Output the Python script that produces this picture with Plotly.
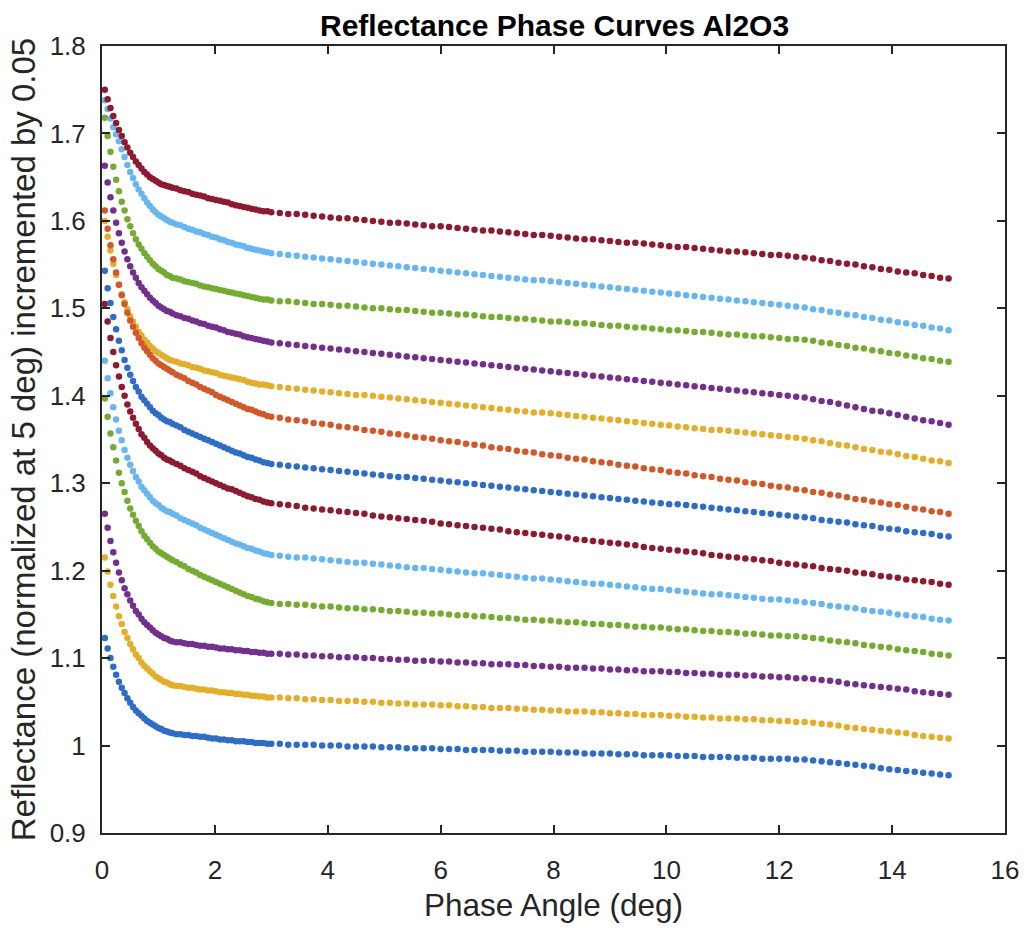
import numpy as np
import plotly.graph_objects as go

# Phase-angle sampling: fine near opposition, then medium, then coarse
x_fine = np.round(np.arange(25) * 0.05 + 0.05, 3)
x_mid = np.round(np.arange(25) * 0.07 + 1.32, 3)
x_coarse = np.round(np.arange(80) * 0.15 + 3.15, 3)
phase_angle = np.concatenate([x_fine, x_mid, x_coarse])

# Normalized reflectance curves, each offset by 0.05 (bottom to top)
curve_01 = [1.123,1.111,1.100,1.090,1.081,1.073,1.066,1.060,1.054,1.049,1.044,1.040,1.037,1.034,1.031,1.028,1.026,1.024,1.022,1.020,1.019,1.017,1.016,1.015,1.014,
            1.013,1.013,1.012,1.012,1.011,1.011,1.010,1.010,1.009,1.008,1.008,1.007,1.007,1.006,1.006,1.005,1.005,1.005,1.004,1.004,1.003,1.003,1.003,1.002,1.002,
            1.002,1.001,1.001,1.001,1.001,1.000,1.000,1.000,0.999,0.999,0.999,0.999,0.998,0.998,0.998,0.997,0.997,0.997,0.997,0.996,0.996,
            0.996,0.995,0.995,0.995,0.995,0.994,0.994,0.994,0.993,0.993,0.993,0.993,0.992,0.992,0.992,0.991,0.991,0.991,0.991,0.990,0.990,
            0.990,0.989,0.989,0.989,0.989,0.988,0.988,0.988,0.987,0.987,0.987,0.987,0.986,0.986,0.986,0.985,0.985,0.985,0.985,0.984,0.984,
            0.983,0.982,0.981,0.980,0.979,0.978,0.977,0.976,0.974,0.973,0.972,0.971,0.970,0.969,0.968,0.967,0.966]
curve_02 = [1.215,1.199,1.184,1.171,1.159,1.148,1.139,1.130,1.123,1.116,1.110,1.104,1.100,1.095,1.091,1.088,1.085,1.082,1.079,1.077,1.075,1.073,1.072,1.070,1.069,
            1.068,1.068,1.067,1.066,1.066,1.065,1.064,1.064,1.063,1.063,1.062,1.061,1.061,1.060,1.060,1.059,1.059,1.058,1.058,1.057,1.057,1.056,1.056,1.055,1.055,
            1.055,1.054,1.054,1.053,1.053,1.052,1.052,1.051,1.051,1.051,1.050,1.050,1.049,1.049,1.048,1.048,1.047,1.047,
            1.047,1.046,1.046,1.045,1.045,1.044,1.044,1.043,1.043,1.043,1.042,1.042,1.041,1.041,1.040,1.040,1.039,1.039,
            1.039,1.038,1.038,1.037,1.037,1.036,1.036,1.035,1.035,1.035,1.034,1.034,1.033,1.033,1.032,1.032,1.031,1.031,
            1.031,1.030,1.030,1.029,1.029,1.028,1.028,1.027,1.027,
            1.026,1.025,1.024,1.023,1.021,1.020,1.019,1.018,1.017,1.016,1.015,1.014,1.012,1.011,1.010,1.009,1.008]
curve_03 = [1.265,1.249,1.234,1.221,1.209,1.198,1.189,1.180,1.173,1.166,1.160,1.154,1.150,1.145,1.141,1.138,1.135,1.132,1.129,1.127,1.125,1.123,1.122,1.120,1.119,
            1.118,1.118,1.117,1.116,1.116,1.115,1.114,1.114,1.113,1.113,1.112,1.111,1.111,1.110,1.110,1.109,1.109,1.108,1.108,1.107,1.107,1.106,1.106,1.105,1.105,
            1.105,1.104,1.104,1.103,1.103,1.102,1.102,1.101,1.101,1.101,1.100,1.100,1.099,1.099,1.098,1.098,1.097,1.097,
            1.097,1.096,1.096,1.095,1.095,1.094,1.094,1.093,1.093,1.093,1.092,1.092,1.091,1.091,1.090,1.090,1.089,1.089,
            1.089,1.088,1.088,1.087,1.087,1.086,1.086,1.085,1.085,1.085,1.084,1.084,1.083,1.083,1.082,1.082,1.081,1.081,
            1.081,1.080,1.080,1.079,1.079,1.078,1.078,1.077,1.077,
            1.076,1.075,1.074,1.073,1.071,1.070,1.069,1.068,1.067,1.066,1.065,1.064,1.062,1.061,1.060,1.059,1.058]
curve_04 = [1.397,1.376,1.357,1.341,1.326,1.312,1.300,1.290,1.280,1.271,1.264,1.257,1.251,1.245,1.240,1.236,1.232,1.228,1.225,1.222,1.220,1.218,1.216,1.214,1.212,
            1.210,1.207,1.205,1.202,1.200,1.198,1.195,1.193,1.191,1.189,1.187,1.185,1.183,1.181,1.179,1.177,1.175,1.173,1.171,1.170,1.168,1.167,1.165,1.164,1.163,
            1.162,1.162,1.161,1.161,1.160,1.159,1.159,1.158,1.157,1.157,1.156,1.156,1.155,1.154,1.154,1.153,1.152,1.152,1.151,1.151,1.150,
            1.149,1.149,1.148,1.148,1.147,1.146,1.146,1.145,1.144,1.144,1.143,1.143,1.142,1.141,1.141,1.140,1.139,1.139,1.138,1.138,1.137,
            1.136,1.136,1.135,1.135,1.134,1.133,1.133,1.132,1.131,1.131,1.130,1.130,1.129,1.128,1.128,1.127,1.126,1.126,1.125,1.125,1.124,
            1.123,1.122,1.120,1.119,1.118,1.117,1.115,1.114,1.113,1.112,1.110,1.109,1.108,1.107,1.105,1.104,1.103]
curve_05 = [1.440,1.420,1.403,1.387,1.373,1.360,1.349,1.338,1.329,1.321,1.314,1.307,1.302,1.296,1.292,1.288,1.284,1.280,1.277,1.275,1.272,1.270,1.268,1.267,1.265,
            1.263,1.260,1.258,1.256,1.254,1.252,1.249,1.247,1.245,1.243,1.241,1.239,1.237,1.235,1.233,1.231,1.230,1.228,1.226,1.225,1.223,1.222,1.220,1.219,1.218,
            1.217,1.216,1.215,1.215,1.214,1.213,1.212,1.211,1.210,1.209,1.209,1.208,1.207,1.206,
            1.205,1.204,1.203,1.203,1.202,1.201,1.200,1.199,1.198,1.197,1.197,1.196,1.195,1.194,
            1.193,1.192,1.191,1.191,1.190,1.189,1.188,1.187,1.186,1.185,1.185,1.184,1.183,1.182,
            1.181,1.180,1.179,1.179,1.178,1.177,1.176,1.175,1.174,1.173,1.173,1.172,1.171,1.170,
            1.169,1.168,1.167,1.167,1.166,1.165,1.164,
            1.163,1.162,1.160,1.159,1.158,1.157,1.155,1.154,1.153,1.152,1.150,1.149,1.148,1.147,1.145,1.144,1.143]
curve_06 = [1.505,1.485,1.466,1.450,1.435,1.422,1.410,1.400,1.390,1.382,1.375,1.368,1.362,1.356,1.352,1.347,1.343,1.340,1.337,1.334,1.332,1.329,1.327,1.326,1.324,
            1.322,1.320,1.317,1.315,1.313,1.311,1.308,1.306,1.304,1.302,1.300,1.298,1.296,1.294,1.293,1.291,1.289,1.287,1.285,1.284,1.282,1.281,1.279,1.278,1.277,
            1.276,1.275,1.274,1.272,1.271,1.270,1.269,1.268,1.267,1.266,1.265,1.263,1.262,1.261,1.260,1.259,1.258,1.257,1.256,1.254,
            1.253,1.252,1.251,1.250,1.249,1.248,1.247,1.245,1.244,1.243,1.242,1.241,1.240,1.239,1.238,1.236,1.235,1.234,1.233,1.232,
            1.231,1.230,1.229,1.227,1.226,1.225,1.224,1.223,1.222,1.221,1.220,1.218,1.217,1.216,1.215,1.214,1.213,1.212,1.211,1.209,
            1.208,1.207,1.206,
            1.205,1.203,1.202,1.201,1.200,1.198,1.197,1.196,1.194,1.193,1.192,1.190,1.189,1.188,1.187,1.185,1.184]
curve_07 = [1.543,1.523,1.506,1.490,1.476,1.463,1.452,1.441,1.432,1.424,1.417,1.410,1.405,1.399,1.395,1.391,1.387,1.383,1.380,1.378,1.375,1.373,1.371,1.370,1.368,
            1.366,1.364,1.361,1.359,1.357,1.355,1.353,1.351,1.349,1.347,1.345,1.343,1.341,1.339,1.337,1.335,1.334,1.332,1.330,1.329,1.327,1.326,1.324,1.323,1.322,
            1.321,1.320,1.319,1.318,1.317,1.316,1.315,1.314,1.313,1.312,1.311,1.310,1.309,1.308,1.307,
            1.307,1.306,1.305,1.304,1.303,1.302,1.301,1.300,1.299,1.298,1.297,1.296,1.295,1.294,1.293,1.292,
            1.291,1.290,1.289,1.288,1.287,1.286,1.285,1.284,1.283,1.282,1.281,1.280,1.279,1.278,1.277,1.276,
            1.276,1.275,1.274,1.273,1.272,1.271,1.270,1.269,1.268,1.267,1.266,1.265,1.264,1.263,1.262,1.261,
            1.260,1.258,1.257,1.256,1.255,1.253,1.252,1.251,1.249,1.248,1.247,1.245,1.244,1.243,1.242,1.240,1.239]
curve_08 = [1.600,1.582,1.566,1.551,1.538,1.527,1.516,1.507,1.499,1.491,1.485,1.479,1.473,1.469,1.464,1.461,1.457,1.454,1.451,1.449,1.447,1.445,1.443,1.441,1.440,
            1.439,1.437,1.436,1.435,1.433,1.432,1.431,1.429,1.428,1.427,1.426,1.424,1.423,1.422,1.421,1.420,1.419,1.418,1.416,1.415,1.414,1.413,1.413,1.412,1.411,
            1.410,1.409,1.408,1.407,1.406,1.405,1.404,1.403,1.402,1.401,
            1.401,1.400,1.399,1.398,1.397,1.396,1.395,1.394,1.393,1.392,1.391,1.390,1.389,1.388,1.387,1.386,1.385,1.384,1.383,1.382,1.381,
            1.381,1.380,1.379,1.378,1.377,1.376,1.375,1.374,1.373,1.372,1.371,1.370,1.369,1.368,1.367,1.366,1.365,1.364,1.363,1.362,1.361,
            1.361,1.360,1.359,1.358,1.357,1.356,1.355,1.354,1.353,1.352,1.351,
            1.349,1.348,1.346,1.344,1.343,1.341,1.339,1.338,1.336,1.335,1.333,1.331,1.330,1.328,1.326,1.325,1.323]
curve_09 = [1.612,1.591,1.572,1.556,1.541,1.527,1.515,1.505,1.495,1.486,1.479,1.472,1.466,1.460,1.455,1.451,1.447,1.443,1.440,1.437,1.435,1.433,1.431,1.429,1.427,
            1.424,1.422,1.420,1.417,1.415,1.413,1.410,1.408,1.406,1.404,1.401,1.399,1.397,1.395,1.393,1.391,1.389,1.387,1.385,1.384,1.382,1.380,1.379,1.377,1.376,
            1.375,1.373,1.372,1.371,1.369,1.368,1.367,1.365,1.364,1.363,1.361,1.360,1.359,1.357,1.356,1.355,1.353,1.352,1.351,1.349,1.348,
            1.347,1.345,1.344,1.343,1.341,1.340,1.339,1.337,1.336,1.335,1.333,1.332,1.331,1.329,1.328,1.327,1.325,1.324,1.323,1.321,1.320,
            1.319,1.317,1.316,1.315,1.313,1.312,1.311,1.309,1.308,1.307,1.305,1.304,1.303,1.301,1.300,1.299,1.297,1.296,1.295,1.293,1.292,
            1.290,1.289,1.287,1.286,1.284,1.282,1.281,1.279,1.278,1.276,1.275,1.273,1.271,1.270,1.268,1.267,1.265]
curve_10 = [1.663,1.644,1.627,1.612,1.598,1.586,1.575,1.565,1.556,1.548,1.541,1.535,1.529,1.524,1.520,1.516,1.512,1.509,1.506,1.503,1.501,1.499,1.497,1.496,1.494,
            1.492,1.491,1.489,1.488,1.486,1.485,1.483,1.482,1.480,1.479,1.478,1.476,1.475,1.473,1.472,1.471,1.470,1.468,1.467,1.466,1.465,1.464,1.463,1.462,1.461,
            1.460,1.459,1.458,1.457,1.456,1.455,1.454,1.453,1.452,1.451,1.450,1.449,1.448,1.447,1.446,1.445,1.444,1.443,1.442,1.441,1.440,
            1.439,1.438,1.437,1.436,1.435,1.434,1.433,1.432,1.431,1.430,1.429,1.428,1.427,1.426,1.425,1.424,1.423,1.422,1.421,1.420,1.419,
            1.418,1.417,1.416,1.415,1.414,1.413,1.412,1.411,1.410,1.409,1.408,1.407,1.406,1.405,1.404,1.403,1.402,1.401,1.400,1.399,1.398,
            1.396,1.394,1.393,1.391,1.389,1.387,1.385,1.383,1.382,1.380,1.378,1.376,1.374,1.372,1.371,1.369,1.367]
curve_11 = [1.718,1.697,1.679,1.662,1.647,1.634,1.622,1.612,1.602,1.594,1.586,1.579,1.573,1.568,1.563,1.559,1.555,1.551,1.548,1.545,1.543,1.541,1.538,1.537,1.535,
            1.534,1.533,1.531,1.530,1.529,1.528,1.526,1.525,1.524,1.523,1.522,1.521,1.520,1.519,1.518,1.517,1.516,1.515,1.514,1.513,1.512,1.511,1.510,1.510,1.509,
            1.508,1.508,1.507,1.506,1.505,1.505,1.504,1.503,1.503,1.502,1.501,1.500,1.500,1.499,
            1.498,1.498,1.497,1.496,1.495,1.495,1.494,1.493,1.493,1.492,1.491,1.490,1.490,1.489,
            1.488,1.488,1.487,1.486,1.485,1.485,1.484,1.483,1.483,1.482,1.481,1.480,1.480,1.479,
            1.478,1.478,1.477,1.476,1.475,1.475,1.474,1.473,1.473,1.472,1.471,1.470,1.470,1.469,
            1.468,1.468,1.467,1.466,1.465,1.465,1.464,
            1.463,1.461,1.460,1.458,1.457,1.455,1.454,1.452,1.451,1.449,1.448,1.446,1.445,1.443,1.442,1.440,1.439]
curve_12 = [1.738,1.728,1.717,1.707,1.699,1.691,1.682,1.673,1.664,1.656,1.649,1.642,1.636,1.631,1.626,1.621,1.617,1.613,1.610,1.607,1.605,1.603,1.601,1.599,1.598,
            1.596,1.595,1.593,1.591,1.590,1.588,1.587,1.585,1.584,1.582,1.581,1.579,1.578,1.576,1.575,1.573,1.572,1.571,1.569,1.568,1.567,1.566,1.565,1.564,1.563,
            1.562,1.561,1.560,1.559,1.558,1.557,1.556,1.555,1.554,1.553,1.552,1.551,1.550,1.549,1.548,1.547,
            1.546,1.545,1.544,1.543,1.542,1.541,1.540,1.539,1.538,1.537,1.536,1.535,1.534,1.533,1.532,
            1.532,1.531,1.530,1.529,1.528,1.527,1.526,1.525,1.524,1.523,1.522,1.521,1.520,1.519,1.518,1.517,
            1.516,1.515,1.514,1.513,1.512,1.511,1.510,1.509,1.508,1.507,1.506,1.505,1.504,1.503,1.502,1.501,
            1.499,1.498,1.496,1.495,1.493,1.492,1.490,1.489,1.487,1.486,1.484,1.483,1.481,1.480,1.478,1.477,1.475]
curve_13 = [1.750,1.739,1.729,1.720,1.712,1.704,1.697,1.690,1.684,1.678,1.673,1.668,1.664,1.660,1.656,1.653,1.650,1.648,1.646,1.644,1.642,1.641,1.640,1.639,1.638,
            1.637,1.635,1.634,1.633,1.631,1.630,1.629,1.628,1.626,1.625,1.624,1.623,1.622,1.621,1.619,1.618,1.617,1.616,1.615,1.614,1.613,1.612,1.611,1.611,1.610,
            1.609,1.608,1.608,1.607,1.606,1.605,1.604,1.603,1.603,1.602,
            1.601,1.600,1.599,1.598,1.598,1.597,1.596,1.595,1.594,1.594,
            1.593,1.592,1.591,1.590,1.589,1.589,1.588,1.587,1.586,1.585,
            1.584,1.584,1.583,1.582,1.581,1.580,1.579,1.579,1.578,1.577,
            1.576,1.575,1.575,1.574,1.573,1.572,1.571,1.570,1.570,1.569,
            1.568,1.567,1.566,1.565,1.565,1.564,1.563,1.562,1.561,1.561,
            1.560,1.559,1.558,
            1.557,1.555,1.554,1.552,1.551,1.550,1.548,1.547,1.545,1.544,1.542,1.541,1.540,1.538,1.537,1.535,1.534]

curves = [curve_01, curve_02, curve_03, curve_04, curve_05, curve_06, curve_07,
          curve_08, curve_09, curve_10, curve_11, curve_12, curve_13]

BLUE, ORANGE, YELLOW, PURPLE = "#2f6cc4", "#d0582a", "#e2ae2c", "#72308c"
GREEN, LIGHTBLUE, DARKRED = "#76ab33", "#69b6ee", "#8c1a30"
colors = [BLUE, YELLOW, PURPLE, GREEN, LIGHTBLUE, DARKRED, BLUE,
          YELLOW, ORANGE, PURPLE, GREEN, LIGHTBLUE, DARKRED]

y_ticks = [0.9, 1.0, 1.1, 1.2, 1.3, 1.4, 1.5, 1.6, 1.7, 1.8]
y_tick_text = ["0.9", "1", "1.1", "1.2", "1.3", "1.4", "1.5", "1.6", "1.7", "1.8"]
x_ticks = [0, 2, 4, 6, 8, 10, 12, 14, 16]

fig = go.Figure()
for vals, col in zip(curves, colors):
    fig.add_trace(go.Scatter(
        x=phase_angle, y=vals, mode="markers",
        marker=dict(size=6.5, color=col, line=dict(width=0)),
        showlegend=False, hoverinfo="x+y",
    ))

AXIS_COLOR = "#262626"
FONT = "Liberation Sans, Arial, Helvetica, sans-serif"

fig.update_layout(
    width=1027, height=930,
    margin=dict(l=102, r=22, t=46, b=97, autoexpand=False),
    paper_bgcolor="white", plot_bgcolor="white",
    font=dict(family=FONT, color=AXIS_COLOR),
    title=dict(text="<b>Reflectance Phase Curves Al2O3</b>",
               x=0.540, xref="container", xanchor="center",
               y=0.973, yref="container", yanchor="middle",
               font=dict(size=30, color="black", family=FONT)),
)
fig.update_xaxes(
    range=[0, 16], tickvals=x_ticks, ticks="inside", ticklen=8, tickwidth=1.5,
    tickcolor=AXIS_COLOR, showline=True, linecolor=AXIS_COLOR, linewidth=2,
    mirror="ticks", showgrid=False, zeroline=False,
    tickfont=dict(size=26, color=AXIS_COLOR), ticklabelstandoff=13,
    title=dict(text="Phase Angle (deg)", font=dict(size=31.5, color=AXIS_COLOR), standoff=10),
)
fig.update_yaxes(
    range=[0.9, 1.8], tickvals=y_ticks, ticktext=y_tick_text, ticks="inside",
    ticklen=8, tickwidth=1.5, tickcolor=AXIS_COLOR, showline=True,
    linecolor=AXIS_COLOR, linewidth=2, mirror="ticks", showgrid=False,
    zeroline=False, tickfont=dict(size=26, color=AXIS_COLOR), ticklabelstandoff=9,
    title=dict(text="Reflectance (normalized at 5 deg) incremented by 0.05",
               font=dict(size=33, color=AXIS_COLOR), standoff=4),
)

fig.write_html("out.html")
